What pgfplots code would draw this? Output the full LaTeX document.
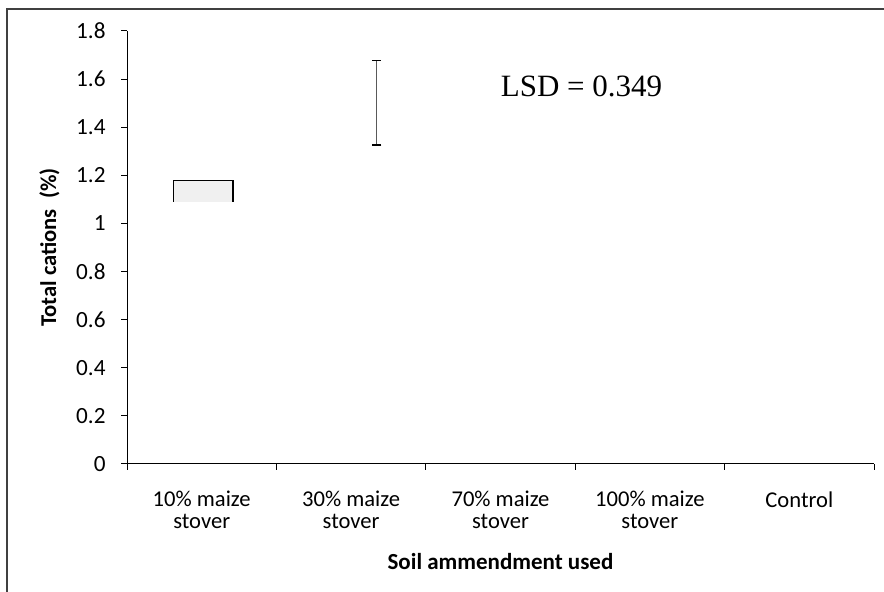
\documentclass[border=0pt]{standalone}
\usepackage{pgfplots}
\pgfplotsset{compat=1.18}
\usepackage{fontspec}
\setmainfont{Carlito}
\newfontfamily\timesfont{Liberation Serif}
\begin{document}
\begin{tikzpicture}
\path[use as bounding box] (0,0) rectangle (442pt,296pt);
\draw[line width=0.9pt, black!75] (3.35pt,0) -- (3.35pt,291.5pt) -- (442pt,291.5pt);
\begin{axis}[
  at={(63.5pt,64pt)}, anchor=south west,
  scale only axis, width=373.5pt, height=216.5pt,
  xmin=-0.5, xmax=4.5, ymin=0, ymax=1.8,
  axis x line=bottom, axis y line=left,
  axis line style={-, line width=0.5pt},
  tick align=outside,
  major tick length=3pt,
  tick style={black, line width=0.5pt},
  ytick={0,0.2,0.4,0.6,0.8,1,1.2,1.4,1.6,1.8},
  /pgf/number format/assume math mode=true,
  yticklabel style={font=\fontsize{11.6}{13}\selectfont, anchor=east, inner sep=0pt, xshift=-7.5pt},
  xtick={-0.5,0.5,1.5,2.5,3.5,4.5},
  x tick label as interval,
  xticklabels={{10\% maize\\stover},{30\% maize\\stover},{70\% maize\\stover},{100\% maize\\stover},{Control}},
  xticklabel style={font=\fontsize{11.3}{10.6}\selectfont, align=center, anchor=north, inner sep=0pt, yshift=-10.5pt},
  xlabel={Soil ammendment used},
  ylabel={Total cations\ \ (\%)},
  x label style={font=\fontsize{11.5}{13}\selectfont\bfseries, at={(axis description cs:0.5,-0.2432)}, anchor=base},
  y label style={font=\fontsize{11.3}{13}\selectfont\bfseries, at={(axis description cs:-0.0950,0.5)}, anchor=base},
  clip=false,
]
\addplot[fill=black!6, draw=none] coordinates {(-0.19,1.09) (0.21,1.09) (0.21,1.18) (-0.19,1.18)} -- cycle;
\addplot[black, line width=0.6pt] coordinates {(-0.19,1.09) (-0.19,1.18) (0.21,1.18) (0.21,1.09)};
\addplot[draw=none, mark=none,
  error bars/.cd, y dir=both, y explicit,
  error bar style={draw=black!65, line width=0.6pt},
  error mark options={rotate=90, mark size=2.35pt, draw=black, line width=0.6pt}]
  coordinates {(1.171,1.501) +- (0,0.175)};
\node[font=\timesfont\fontsize{15.5}{18}\selectfont, anchor=base] at (axis cs:2.542,1.527) {LSD = 0.349};
\end{axis}
\end{tikzpicture}
\end{document}
